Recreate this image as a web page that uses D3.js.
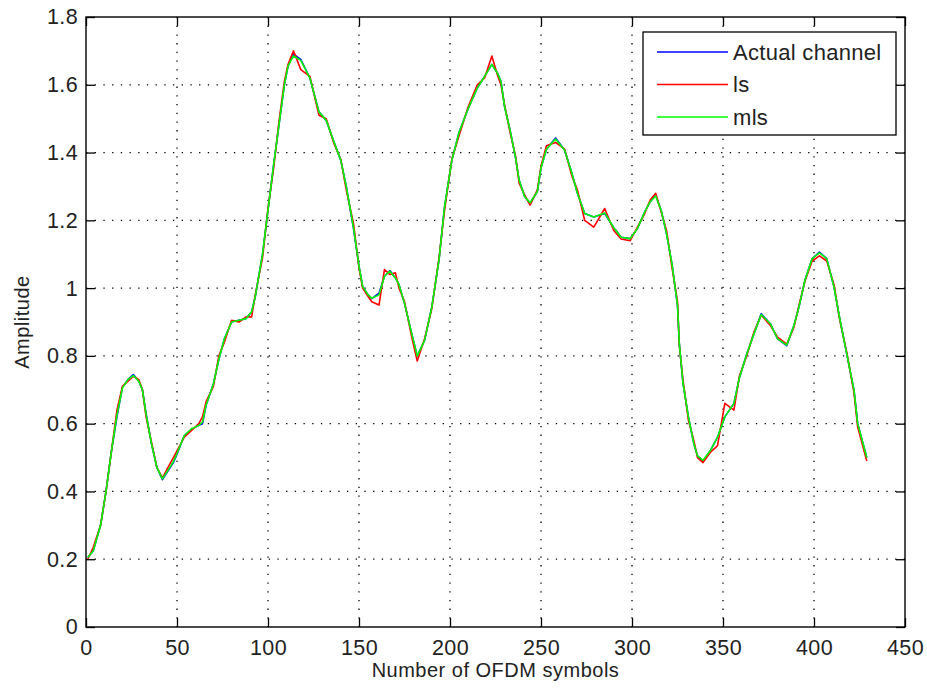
<!DOCTYPE html>
<html>
<head>
<meta charset="utf-8">
<script src="https://cdn.jsdelivr.net/npm/d3@7"></script>
<style>
  body { margin: 0; background: #fff; }
  text { font-family: "Liberation Sans", Arial, sans-serif; fill: #222; }
</style>
</head>
<body>
<svg id="chart" width="927" height="688"></svg>
<script>
// symbol index where each reading was taken off the picture
const symbols = [1,4,8,11,14,17,20,23,26,29,31,33,36,39,42,45,48,50,54,58,62,64,66,70,73,76,80,84,88,91,93,97,100,103,106,109,111,114,118,123,128,132,136,140,143,147,150,152,155,157,161,164,167,170,172,175,179,182,186,190,194,197,201,205,210,215,219,223,226,228,230,233,236,238,241,244,248,250,253,258,263,267,270,274,279,285,290,294,299,303,307,310,313,316,319,322,325,326,328,331,334,336,339,343,347,351,356,359,363,367,371,376,380,385,389,392,395,399,403,407,411,414,418,422,424,427,429];

const actualChannel = [0.205,0.225,0.30,0.40,0.52,0.62,0.707,0.73,0.745,0.725,0.70,0.63,0.54,0.47,0.435,0.46,0.485,0.51,0.565,0.584,0.595,0.60,0.655,0.717,0.79,0.85,0.90,0.905,0.91,0.93,0.975,1.10,1.23,1.36,1.48,1.60,1.655,1.69,1.675,1.62,1.52,1.495,1.435,1.377,1.30,1.175,1.065,1.005,0.98,0.969,0.985,1.035,1.052,1.03,1.01,0.955,0.865,0.80,0.845,0.944,1.085,1.24,1.377,1.46,1.53,1.59,1.625,1.66,1.635,1.61,1.535,1.466,1.385,1.318,1.27,1.25,1.285,1.355,1.41,1.443,1.407,1.338,1.28,1.22,1.21,1.22,1.178,1.15,1.146,1.176,1.225,1.255,1.275,1.23,1.16,1.07,0.95,0.836,0.72,0.62,0.54,0.505,0.49,0.52,0.56,0.62,0.66,0.735,0.805,0.865,0.924,0.895,0.85,0.83,0.89,0.95,1.023,1.087,1.106,1.087,1.003,0.914,0.806,0.698,0.60,0.54,0.50];

const lsEstimate = [0.20,0.235,0.30,0.40,0.52,0.64,0.71,0.725,0.74,0.73,0.70,0.62,0.545,0.47,0.44,0.47,0.50,0.52,0.56,0.58,0.60,0.62,0.665,0.71,0.80,0.84,0.905,0.90,0.915,0.915,0.98,1.09,1.235,1.35,1.49,1.61,1.66,1.70,1.645,1.625,1.51,1.50,1.43,1.38,1.29,1.19,1.06,1.00,0.975,0.96,0.95,1.055,1.04,1.045,1.00,0.96,0.855,0.785,0.85,0.94,1.09,1.23,1.38,1.45,1.535,1.60,1.62,1.685,1.63,1.60,1.54,1.46,1.39,1.31,1.275,1.245,1.29,1.36,1.42,1.43,1.41,1.33,1.29,1.20,1.18,1.235,1.17,1.145,1.14,1.18,1.22,1.26,1.28,1.225,1.17,1.06,0.96,0.83,0.73,0.61,0.55,0.50,0.485,0.515,0.535,0.66,0.64,0.74,0.80,0.87,0.92,0.89,0.855,0.835,0.885,0.955,1.02,1.08,1.095,1.08,1.01,0.91,0.81,0.69,0.59,0.53,0.49];

const mlsEstimate = [0.205,0.225,0.30,0.40,0.52,0.625,0.705,0.73,0.742,0.725,0.70,0.628,0.54,0.47,0.437,0.462,0.488,0.512,0.565,0.585,0.595,0.605,0.655,0.717,0.79,0.85,0.90,0.905,0.91,0.93,0.975,1.10,1.23,1.36,1.48,1.60,1.655,1.685,1.672,1.62,1.52,1.495,1.435,1.377,1.30,1.178,1.065,1.005,0.98,0.97,0.98,1.035,1.05,1.03,1.01,0.955,0.865,0.80,0.845,0.944,1.085,1.24,1.377,1.46,1.53,1.59,1.625,1.66,1.635,1.61,1.535,1.466,1.385,1.318,1.27,1.252,1.285,1.355,1.41,1.44,1.407,1.338,1.28,1.22,1.21,1.222,1.178,1.15,1.146,1.176,1.225,1.255,1.272,1.23,1.16,1.07,0.95,0.836,0.72,0.62,0.54,0.505,0.492,0.52,0.56,0.62,0.66,0.735,0.805,0.865,0.922,0.895,0.85,0.832,0.89,0.95,1.023,1.087,1.104,1.087,1.003,0.914,0.806,0.698,0.60,0.54,0.50];

const xTicks = [0, 50, 100, 150, 200, 250, 300, 350, 400, 450];
const yTicks = [0, 0.2, 0.4, 0.6, 0.8, 1, 1.2, 1.4, 1.6, 1.8];
const seriesNames = ["Actual channel", "ls", "mls"];
const seriesColors = ["#0000ff", "#ff0000", "#00ff00"];

const width = 927, height = 688;
const margin = { top: 17, right: 22, bottom: 61, left: 86 };
const innerW = width - margin.left - margin.right;
const innerH = height - margin.top - margin.bottom;

const svg = d3.select("#chart");
svg.append("rect").attr("width", width).attr("height", height).attr("fill", "#fff");

const g = svg.append("g").attr("transform", `translate(${margin.left},${margin.top})`);

const x = d3.scaleLinear().domain([0, 450]).range([0, innerW]);
const y = d3.scaleLinear().domain([0, 1.8]).range([innerH, 0]);

// dotted grid
g.append("g").selectAll("line.vg")
  .data(xTicks.slice(1, -1))
  .enter().append("line")
  .attr("x1", d => x(d)).attr("x2", d => x(d))
  .attr("y1", 0).attr("y2", innerH)
  .attr("stroke", "#000").attr("stroke-width", 1.3)
  .attr("stroke-dasharray", "1.3,7.4");

g.append("g").selectAll("line.hg")
  .data(yTicks.slice(1, -1))
  .enter().append("line")
  .attr("x1", 0).attr("x2", innerW)
  .attr("y1", d => y(d)).attr("y2", d => y(d))
  .attr("stroke", "#000").attr("stroke-width", 1.3)
  .attr("stroke-dasharray", "1.3,7.4");

// series
const rows = symbols.map((s, i) => ({ s, v: [actualChannel[i], lsEstimate[i], mlsEstimate[i]] }));
[0, 1, 2].forEach(k => {
  const line = d3.line().x(d => x(d.s)).y(d => y(d.v[k]));
  g.append("path")
    .datum(rows)
    .attr("d", line)
    .attr("fill", "none")
    .attr("stroke", seriesColors[k])
    .attr("stroke-width", 1.6)
    .attr("stroke-linejoin", "round");
});

// axes, ticks inside like matlab
const tickLen = 9;
const fmt = d => String(+d.toFixed(1));

const xAxis = g.append("g")
  .attr("transform", `translate(0,${innerH})`)
  .call(d3.axisBottom(x).tickValues(xTicks).tickFormat(fmt).tickSizeInner(-tickLen).tickSizeOuter(0).tickPadding(13));
const xTop = g.append("g")
  .call(d3.axisTop(x).tickValues(xTicks).tickFormat("").tickSizeInner(-tickLen).tickSizeOuter(0));
const yAxis = g.append("g")
  .call(d3.axisLeft(y).tickValues(yTicks).tickFormat(fmt).tickSizeInner(-tickLen).tickSizeOuter(0).tickPadding(8));
const yRight = g.append("g")
  .attr("transform", `translate(${innerW},0)`)
  .call(d3.axisRight(y).tickValues(yTicks).tickFormat("").tickSizeInner(-tickLen).tickSizeOuter(0));

[xAxis, xTop, yAxis, yRight].forEach(a => {
  a.select(".domain").remove();
  a.selectAll(".tick line").attr("stroke", "#000").attr("stroke-width", 1.3);
  a.selectAll("text").style("font-size", "21.5px").style("letter-spacing", "0.4px").attr("fill", "#222");
});

// box
g.append("rect")
  .attr("x", 0).attr("y", 0).attr("width", innerW).attr("height", innerH)
  .attr("fill", "none").attr("stroke", "#000").attr("stroke-width", 1.4);

// axis titles
svg.append("text")
  .attr("x", margin.left + innerW / 2).attr("y", 677)
  .attr("text-anchor", "middle")
  .style("font-size", "20px")
  .style("letter-spacing", "0.5px")
  .text("Number of OFDM symbols");

svg.append("text")
  .attr("transform", `translate(29,${margin.top + innerH / 2}) rotate(-90)`)
  .attr("text-anchor", "middle")
  .style("font-size", "20px")
  .style("letter-spacing", "0.5px")
  .text("Amplitude");

// legend
const legend = svg.append("g").attr("transform", "translate(643,32)");
legend.append("rect")
  .attr("width", 253).attr("height", 103)
  .attr("fill", "#fff").attr("stroke", "#000").attr("stroke-width", 1.3);
seriesNames.forEach((name, i) => {
  const ly = 20 + i * 32.5;
  legend.append("line")
    .attr("x1", 14).attr("x2", 85).attr("y1", ly).attr("y2", ly)
    .attr("stroke", seriesColors[i]).attr("stroke-width", 1.5);
  legend.append("text")
    .attr("x", 90).attr("y", ly).attr("dy", "0.35em")
    .style("font-size", "22px")
    .style("letter-spacing", "0.3px")
    .text(name);
});
</script>
</body>
</html>
